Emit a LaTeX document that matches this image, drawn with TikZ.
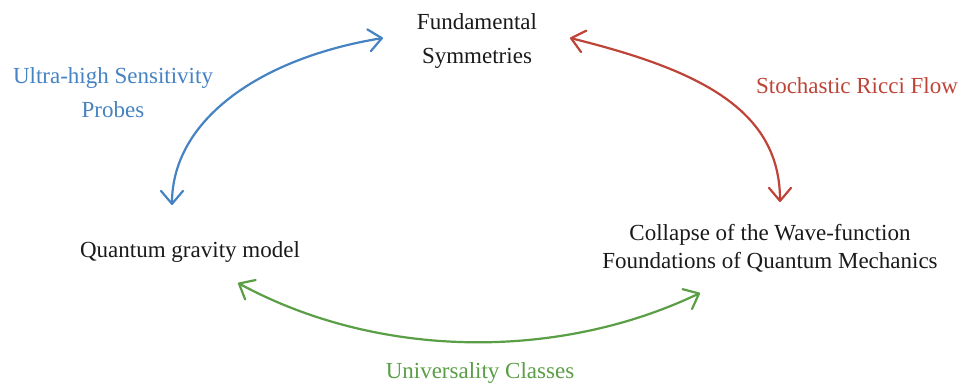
\documentclass[tikz,border=0pt]{standalone}
\usepackage{fontspec}
\setmainfont{Liberation Serif}
\usetikzlibrary{arrows.meta}
\definecolor{cblue}{HTML}{4683C3}
\definecolor{cred}{HTML}{BE4438}
\definecolor{cgreen}{HTML}{5A9E45}
\definecolor{ctext}{HTML}{1A1A1A}
\tikzset{
  lbl/.style={inner sep=0pt, align=center, font=\fontsize{23}{34}\selectfont, text=ctext},
  conn/.style={line width=2.2pt, line cap=round, {Straight Barb[length=13pt,width=22pt,line cap=round,line join=round]}-{Straight Barb[length=13pt,width=22pt,line cap=round,line join=round]}},
}
\begin{document}
\begin{tikzpicture}[x=1pt,y=-1pt]
\useasboundingbox (0,0) rectangle (968,388);
\fill[white] (0,0) rectangle (968,388);
% labels (base anchor = baseline of last line)
\node[lbl, anchor=base] (fund) at (477,63) {Fundamental\\Symmetries};
\node[lbl, anchor=base] (qgm) at (190,257) {Quantum gravity model};
\node[lbl, anchor=base, font=\fontsize{23}{28}\selectfont] (coll) at (770,268) {Collapse of the Wave-function\\Foundations of Quantum Mechanics};
\node[lbl, anchor=base, text=cblue] (ultra) at (113,117) {Ultra-high Sensitivity\\Probes};
\node[lbl, anchor=base, text=cred] (ricci) at (857,93) {Stochastic Ricci Flow};
\node[lbl, anchor=base, text=cgreen] (univ) at (480,378) {Universality Classes};
% connector ends
\coordinate (bA) at (172,205);
\coordinate (bB) at (383,38);
\coordinate (rA) at (570,38);
\coordinate (rB) at (780,202);
\coordinate (gA) at (238,283);
\coordinate (gB) at (700,293);
% connectors
\draw[conn, cblue] (bA) .. controls (172,120) and (260,58) .. (bB);
\draw[conn, cred] (rA) .. controls (700,70) and (780,110) .. (rB);
\draw[conn, cgreen] (gA) .. controls (380,360) and (560,360) .. (gB);
\end{tikzpicture}
\end{document}
